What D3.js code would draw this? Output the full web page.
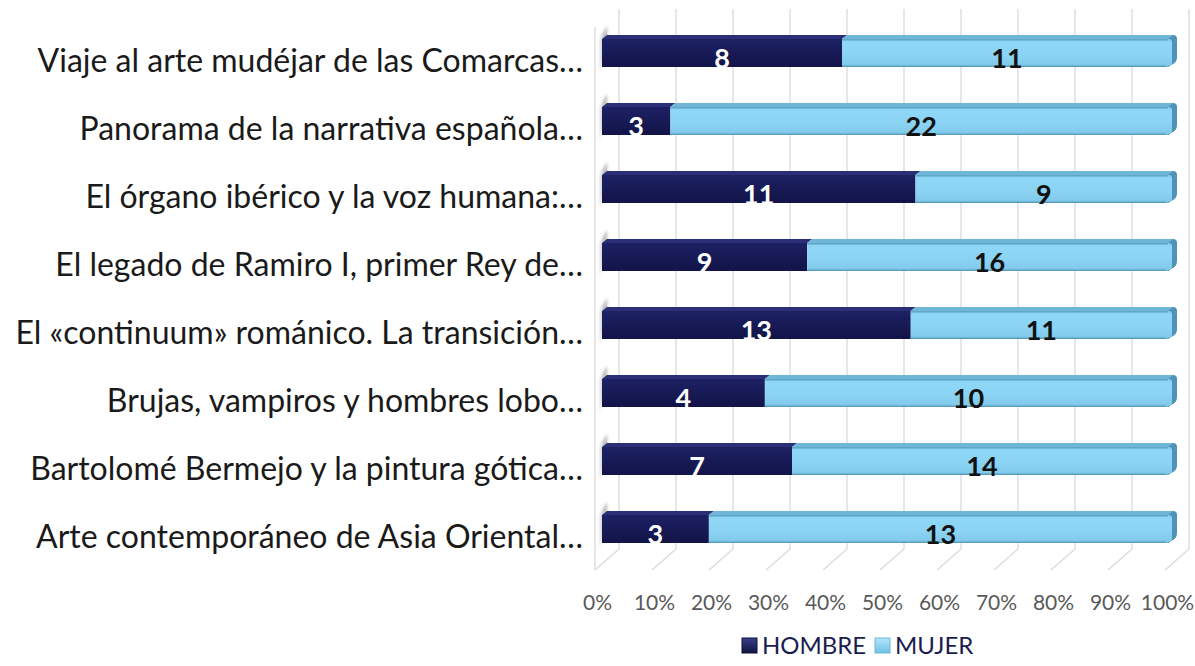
<!DOCTYPE html>
<html><head><meta charset="utf-8">
<script src="https://cdn.jsdelivr.net/npm/d3@7"></script>
<style>body{margin:0;background:#fff}svg{display:block}</style>
</head><body>
<svg id="c" width="1195" height="666"></svg>
<script>
const categories = [
  "Viaje al arte mudéjar de las Comarcas…",
  "Panorama de la narrativa española…",
  "El órgano ibérico y la voz humana:…",
  "El legado de Ramiro I, primer Rey de…",
  "El «continuum» románico. La transición…",
  "Brujas, vampiros y hombres lobo…",
  "Bartolomé Bermejo y la pintura gótica…",
  "Arte contemporáneo de Asia Oriental…"
];
const hombre = [8, 3, 11, 9, 13, 4, 7, 3];
const mujer  = [11, 22, 9, 16, 11, 10, 14, 13];
const seriesNames = ["HOMBRE", "MUJER"];
const tickValues = [0,0.1,0.2,0.3,0.4,0.5,0.6,0.7,0.8,0.9,1];

const svg = d3.select("#c");
const defs = svg.append("defs");
const FONT = "Lato, 'Open Sans', sans-serif";

const x = d3.scaleLinear().domain([0,1]).range([595,1165]);
const y = d3.scaleBand().domain(categories).range([19,563]).padding(0);
const DX = 24, DY = -21;
const floorY = 570, topY = 30;

function lg(id, stops, vertical=true){
  const g = defs.append("linearGradient").attr("id",id)
    .attr("x1",0).attr("y1",0).attr("x2",vertical?0:1).attr("y2",vertical?1:0);
  stops.forEach(s=>g.append("stop").attr("offset",s[0]).attr("stop-color",s[1]).attr("stop-opacity",s[2]===undefined?1:s[2]));
}
lg("gDark",[[0,"#1e2266"],[0.5,"#171a55"],[1,"#121447"]]);
lg("gLight",[[0,"#7cc8ea"],[0.12,"#8fd7f6"],[0.6,"#8ad3f3"],[1,"#7ec7e8"]]);
lg("gShadow",[[0,"#ffffff",0],[0.5,"#c8c8c8",1],[1,"#9a9a9a",1]],false);
lg("gLegD",[[0,"#3a3f8a"],[1,"#101340"]]);
lg("gLegL",[[0,"#b5e6fa"],[1,"#6fc0e6"]]);
defs.append("filter").attr("id","blur").attr("x","-50%").attr("y","-50%").attr("width","200%").attr("height","200%")
  .append("feGaussianBlur").attr("stdDeviation",1.6);

// Walls / gridlines
const grid = svg.append("g").attr("stroke","#dadada").attr("stroke-width",1.3).attr("fill","none");
tickValues.forEach(t=>{
  grid.append("line").attr("x1",x(t)+DX).attr("x2",x(t)+DX).attr("y1",topY+DY).attr("y2",floorY+DY);
  grid.append("line").attr("x1",x(t)).attr("y1",floorY).attr("x2",x(t)+DX).attr("y2",floorY+DY);
});
grid.append("line").attr("x1",x(0)).attr("x2",x(0)).attr("y1",topY-3).attr("y2",floorY);

// Bars
const data = categories.map((c,i)=>{
  const tot = hombre[i]+mujer[i];
  return {cat:c, segs:[
    {s:0, e:hombre[i]/tot, v:hombre[i], k:0},
    {s:hombre[i]/tot, e:1, v:mujer[i], k:1}
  ]};
});
const BX = 7, BH = 28, TD = 5, TH = 4;
const bars = svg.append("g");
data.forEach(d=>{
  const yc = y(d.cat)+y.bandwidth()/2;
  const y0 = yc-BH/2;
  const g = bars.append("g");
  const xl = x(0);
  g.append("path")
    .attr("d",`M${xl+2},${y0+BH+9} L${xl+2},${y0+4} L${xl+BX+TD},${y0-TH-9} L${xl+BX+TD},${y0} L${xl+BX},${y0+BH}Z`)
    .attr("fill","url(#gShadow)").attr("filter","url(#blur)").attr("opacity",0.85);
  d.segs.forEach(s=>{
    const x0 = x(s.s)+BX, x1 = x(s.e)+BX;
    const dark = s.k===0;
    g.append("path")
      .attr("d",`M${x0},${y0} L${x0+TD},${y0-TH} L${x1+TD - (dark?0:4)},${y0-TH} L${x1},${y0}Z`)
      .attr("fill", dark? "#2b2f78" : "#6fb6d8");
    if(dark){
      g.append("rect").attr("x",x0).attr("y",y0).attr("width",x1-x0).attr("height",BH)
        .attr("fill","url(#gDark)");
    } else {
      g.append("path")
        .attr("d",`M${x0},${y0} L${x1-4},${y0} Q${x1},${y0} ${x1},${y0+4} L${x1},${y0+BH-6} Q${x1},${y0+BH} ${x1-6},${y0+BH} L${x0},${y0+BH}Z`)
        .attr("fill","url(#gLight)");
      g.append("line").attr("x1",x0).attr("x2",x1-4).attr("y1",y0+0.8).attr("y2",y0+0.8)
        .attr("stroke","#5fa6c8").attr("stroke-width",1.6);
      g.append("line").attr("x1",x0).attr("x2",x1-6).attr("y1",y0+BH-0.8).attr("y2",y0+BH-0.8)
        .attr("stroke","#5a9ec0").attr("stroke-width",1.6);
      g.append("path")
        .attr("d",`M${x1},${y0+4} Q${x1},${y0} ${x1-4},${y0} L${x1+TD-4},${y0-TH} Q${x1+TD},${y0-TH} ${x1+TD},${y0-TH+4} L${x1+TD},${y0+BH-TH-6} Q${x1+TD},${y0+BH-TH} ${x1+TD-6},${y0+BH-TH+2} L${x1-6},${y0+BH} Q${x1},${y0+BH} ${x1},${y0+BH-6}Z`)
        .attr("fill","#4f93b6");
    }
    g.append("text").attr("x",(x0+x1)/2).attr("y",yc+15)
      .attr("text-anchor","middle")
      .attr("font-family",FONT).attr("font-weight",700).attr("font-size",27)
      .attr("fill", dark?"#ffffff":"#111111").text(s.v);
  });
});

// Category labels
svg.append("g").selectAll("text").data(categories).join("text")
  .attr("x",583).attr("y",c=>y(c)+y.bandwidth()/2+19)
  .attr("text-anchor","end")
  .attr("font-family",FONT).attr("font-size",32).attr("fill","#1a1a1a")
  .text(c=>c);

// X axis tick labels
const xAxis = d3.axisBottom(x).tickValues(tickValues).tickFormat(d3.format(".0%")).tickSize(0).tickPadding(0);
const ax = svg.append("g").attr("transform","translate(2,610)").call(xAxis);
ax.select(".domain").remove();
ax.selectAll("text").attr("y",0).attr("dy",null)
  .attr("font-family",FONT).attr("font-size",21).attr("fill","#595959");

// Legend
const leg = svg.append("g").attr("transform","translate(0,654)");
const legX = [742, 875];
seriesNames.forEach((n,i)=>{
  leg.append("rect").attr("x",legX[i]).attr("y",-16).attr("width",15).attr("height",15)
    .attr("fill", i===0?"url(#gLegD)":"url(#gLegL)")
    .attr("stroke", i===0?"#0e1038":"#6ab9de").attr("stroke-width",1);
  leg.append("text").attr("x",legX[i]+20).attr("y",0)
    .attr("font-family",FONT).attr("font-size",24).attr("fill","#1b1d4f").text(n);
});
</script>
</body></html>
